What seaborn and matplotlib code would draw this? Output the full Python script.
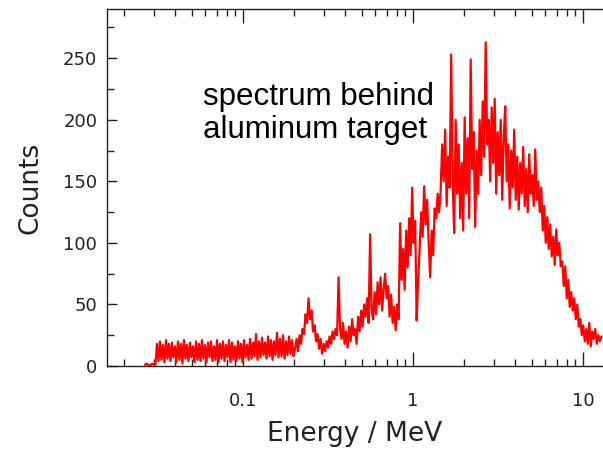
import numpy as np
import seaborn as sns
import matplotlib.pyplot as plt
from matplotlib.ticker import LogLocator, MultipleLocator, NullFormatter

# counts, roughly one bin per 1.5 px, left to right
counts = [
    1, 2, 1, 0, 1, 2, 1, 1, 18, 4,
    20, 5, 17, 3, 21, 6, 18, 4, 19, 7,
    16, 3, 20, 5, 18, 2, 21, 6, 17, 4,
    19, 7, 16, 3, 20, 5, 18, 4, 21, 6,
    17, 3, 19, 7, 20, 4, 16, 5, 21, 3,
    18, 6, 20, 4, 17, 7, 21, 3, 19, 5,
    16, 4, 20, 6, 18, 3, 21, 7, 17, 5,
    22, 6, 19, 8, 26, 5, 20, 7, 23, 9,
    19, 6, 24, 8, 21, 5, 20, 9, 27, 7,
    22, 8, 25, 6, 20, 9, 24, 10, 21, 8,
    14, 22, 12, 25, 18, 30, 26, 42, 35, 55,
    38, 45, 28, 33, 20, 26, 14, 22, 10, 18,
    12, 20, 15, 24, 18, 28, 22, 30, 25, 72,
    30, 22, 35, 18, 28, 15, 32, 20, 38, 25,
    30, 18, 40, 28, 45, 32, 50, 40, 55, 35,
    107, 45, 38, 60, 42, 68, 50, 72, 45, 62,
    75, 55, 65, 40, 58, 35, 48, 29, 50, 38,
    116, 70, 95, 62, 110, 80, 120, 90, 145, 100,
    118, 37, 70, 95, 125, 105, 146, 115, 135, 100,
    72, 110, 90, 128, 120, 140, 125, 143, 180, 150,
    192, 130, 170, 145, 253, 150, 108, 200, 140, 180,
    120, 165, 110, 202, 140, 185, 120, 249, 160, 190,
    113, 175, 140, 200, 155, 215, 170, 263, 180, 200,
    150, 210, 165, 217, 140, 190, 155, 200, 135, 185,
    211, 150, 180, 128, 175, 145, 192, 135, 170, 127,
    165, 140, 178, 130, 160, 125, 172, 140, 155, 130,
    176, 135, 150, 125, 145, 110, 130, 100, 121, 95,
    115, 89, 105, 82, 111, 90, 100, 81, 85, 65,
    81, 55, 70, 48, 60, 45, 55, 38, 50, 32,
    38, 25, 33, 20, 30, 18, 35, 16, 28, 22,
    30, 18, 25, 20, 24,
]
# energy bins, log spaced between first and last bin (MeV)
e_first, e_last = 0.0265, 12.8
energy = np.geomspace(e_first, e_last, len(counts))

x_ticks = [0.1, 1, 10]
x_tick_labels = ['0.1', '1', '10']
y_ticks = [0, 50, 100, 150, 200, 250]

sns.set_style('ticks')
plt.rcParams['font.family'] = ['DejaVu Sans']

fig = plt.figure(figsize=(6.03, 4.51), dpi=100)
ax = fig.add_axes([0.1774, 0.1885, 0.8226, 0.7915])

sns.lineplot(x=energy, y=counts, ax=ax, color='#ff0000', linewidth=1.6,
             estimator=None)

ax.set_xscale('log')
ax.set_xlim(0.01585, 13.1)
ax.set_ylim(0, 290)

ax.set_xticks(x_ticks)
ax.set_xticklabels(x_tick_labels)
ax.xaxis.set_minor_locator(LogLocator(base=10, subs=np.arange(2, 10)))
ax.xaxis.set_minor_formatter(NullFormatter())
ax.set_yticks(y_ticks)
ax.yaxis.set_minor_locator(MultipleLocator(25))

ax.tick_params(axis='x', which='major', direction='in', length=10, width=1,
               top=True, pad=19, labelsize=13, colors='#222222')
ax.tick_params(axis='x', which='minor', direction='in', length=5, width=1,
               top=True)
ax.tick_params(axis='y', which='major', direction='in', length=7, width=1,
               right=False, pad=7, labelsize=13, colors='#222222')
ax.tick_params(axis='y', which='minor', direction='in', length=5, width=1,
               right=False)

for side in ['left', 'bottom', 'top']:
    ax.spines[side].set_linewidth(1)
    ax.spines[side].set_color('#222222')
ax.spines['right'].set_visible(False)

ax.set_xlabel('Energy / MeV', fontsize=19, color='#222222', labelpad=8)
ax.set_ylabel('Counts', fontsize=19, color='#222222', labelpad=14)

fig.text(0.3366, 0.818, 'spectrum behind\naluminum target',
         family=['Liberation Sans', 'DejaVu Sans'], fontsize=22.5,
         va='top', ha='left', linespacing=1.12, color='black')

fig.savefig('out.png', dpi=100)
plt.close(fig)
